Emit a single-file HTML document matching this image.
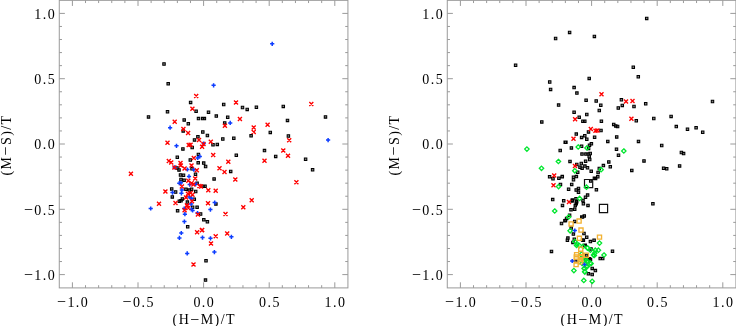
<!DOCTYPE html>
<html><head><meta charset="utf-8"><style>
html,body{margin:0;padding:0;background:#fff;}
body{width:736px;height:326px;overflow:hidden;}
svg{display:block;will-change:transform;}
</style></head><body>
<svg width="736" height="326" viewBox="0 0 736 326">
<rect width="736" height="326" fill="#fff"/>
<g font-family='"Liberation Serif", serif' font-size="14" letter-spacing="1.45" fill="#000">
<rect x="59.28" y="0.35" width="288.64" height="287.55" fill="none" stroke="#9a9a9a" stroke-width="1.0"/>
<path d="M72.4 287.9V282.3M72.4 0.35V5.95M59.28 274.6H64.88M347.92 274.6H342.32M85.52 287.9V285.2M85.52 0.35V3.05M59.28 261.54H61.98M347.92 261.54H345.22M98.64 287.9V285.2M98.64 0.35V3.05M59.28 248.48H61.98M347.92 248.48H345.22M111.76 287.9V285.2M111.76 0.35V3.05M59.28 235.42H61.98M347.92 235.42H345.22M124.88 287.9V285.2M124.88 0.35V3.05M59.28 222.36H61.98M347.92 222.36H345.22M138 287.9V282.3M138 0.35V5.95M59.28 209.3H64.88M347.92 209.3H342.32M151.12 287.9V285.2M151.12 0.35V3.05M59.28 196.24H61.98M347.92 196.24H345.22M164.24 287.9V285.2M164.24 0.35V3.05M59.28 183.18H61.98M347.92 183.18H345.22M177.36 287.9V285.2M177.36 0.35V3.05M59.28 170.12H61.98M347.92 170.12H345.22M190.48 287.9V285.2M190.48 0.35V3.05M59.28 157.06H61.98M347.92 157.06H345.22M203.6 287.9V282.3M203.6 0.35V5.95M59.28 144H64.88M347.92 144H342.32M216.72 287.9V285.2M216.72 0.35V3.05M59.28 130.94H61.98M347.92 130.94H345.22M229.84 287.9V285.2M229.84 0.35V3.05M59.28 117.88H61.98M347.92 117.88H345.22M242.96 287.9V285.2M242.96 0.35V3.05M59.28 104.82H61.98M347.92 104.82H345.22M256.08 287.9V285.2M256.08 0.35V3.05M59.28 91.76H61.98M347.92 91.76H345.22M269.2 287.9V282.3M269.2 0.35V5.95M59.28 78.7H64.88M347.92 78.7H342.32M282.32 287.9V285.2M282.32 0.35V3.05M59.28 65.64H61.98M347.92 65.64H345.22M295.44 287.9V285.2M295.44 0.35V3.05M59.28 52.58H61.98M347.92 52.58H345.22M308.56 287.9V285.2M308.56 0.35V3.05M59.28 39.52H61.98M347.92 39.52H345.22M321.68 287.9V285.2M321.68 0.35V3.05M59.28 26.46H61.98M347.92 26.46H345.22M334.8 287.9V282.3M334.8 0.35V5.95M59.28 13.4H64.88M347.92 13.4H342.32" stroke="#9a9a9a" stroke-width="1.0" fill="none"/>
<text x="56.23" y="279.8" text-anchor="end"><tspan font-size="16" dy="0.6">−</tspan><tspan dy="-0.6">1.0</tspan></text>
<text x="73.12" y="306.6" text-anchor="middle"><tspan font-size="16" dy="0.6">−</tspan><tspan dy="-0.6">1.0</tspan></text>
<text x="56.23" y="214.5" text-anchor="end"><tspan font-size="16" dy="0.6">−</tspan><tspan dy="-0.6">0.5</tspan></text>
<text x="138.72" y="306.6" text-anchor="middle"><tspan font-size="16" dy="0.6">−</tspan><tspan dy="-0.6">0.5</tspan></text>
<text x="56.23" y="149.2" text-anchor="end">0.0</text>
<text x="204.32" y="306.6" text-anchor="middle">0.0</text>
<text x="56.23" y="83.9" text-anchor="end">0.5</text>
<text x="269.93" y="306.6" text-anchor="middle">0.5</text>
<text x="56.23" y="18.6" text-anchor="end">1.0</text>
<text x="335.52" y="306.6" text-anchor="middle">1.0</text>
<text x="204.32" y="324" text-anchor="middle">(H<tspan font-size="16" dy="0.6">−</tspan><tspan dy="-0.6">M)/T</tspan></text>
<text transform="translate(10.68,145.7) rotate(-90)" x="0.72" y="0" text-anchor="middle">(M<tspan font-size="16" dy="0.6">−</tspan><tspan dy="-0.6">S)/T</tspan></text>
<rect x="447.28" y="0.35" width="288.64" height="287.55" fill="none" stroke="#9a9a9a" stroke-width="1.0"/>
<path d="M460.4 287.9V282.3M460.4 0.35V5.95M447.28 274.6H452.88M735.92 274.6H730.32M473.52 287.9V285.2M473.52 0.35V3.05M447.28 261.54H449.98M735.92 261.54H733.22M486.64 287.9V285.2M486.64 0.35V3.05M447.28 248.48H449.98M735.92 248.48H733.22M499.76 287.9V285.2M499.76 0.35V3.05M447.28 235.42H449.98M735.92 235.42H733.22M512.88 287.9V285.2M512.88 0.35V3.05M447.28 222.36H449.98M735.92 222.36H733.22M526 287.9V282.3M526 0.35V5.95M447.28 209.3H452.88M735.92 209.3H730.32M539.12 287.9V285.2M539.12 0.35V3.05M447.28 196.24H449.98M735.92 196.24H733.22M552.24 287.9V285.2M552.24 0.35V3.05M447.28 183.18H449.98M735.92 183.18H733.22M565.36 287.9V285.2M565.36 0.35V3.05M447.28 170.12H449.98M735.92 170.12H733.22M578.48 287.9V285.2M578.48 0.35V3.05M447.28 157.06H449.98M735.92 157.06H733.22M591.6 287.9V282.3M591.6 0.35V5.95M447.28 144H452.88M735.92 144H730.32M604.72 287.9V285.2M604.72 0.35V3.05M447.28 130.94H449.98M735.92 130.94H733.22M617.84 287.9V285.2M617.84 0.35V3.05M447.28 117.88H449.98M735.92 117.88H733.22M630.96 287.9V285.2M630.96 0.35V3.05M447.28 104.82H449.98M735.92 104.82H733.22M644.08 287.9V285.2M644.08 0.35V3.05M447.28 91.76H449.98M735.92 91.76H733.22M657.2 287.9V282.3M657.2 0.35V5.95M447.28 78.7H452.88M735.92 78.7H730.32M670.32 287.9V285.2M670.32 0.35V3.05M447.28 65.64H449.98M735.92 65.64H733.22M683.44 287.9V285.2M683.44 0.35V3.05M447.28 52.58H449.98M735.92 52.58H733.22M696.56 287.9V285.2M696.56 0.35V3.05M447.28 39.52H449.98M735.92 39.52H733.22M709.68 287.9V285.2M709.68 0.35V3.05M447.28 26.46H449.98M735.92 26.46H733.22M722.8 287.9V282.3M722.8 0.35V5.95M447.28 13.4H452.88M735.92 13.4H730.32" stroke="#9a9a9a" stroke-width="1.0" fill="none"/>
<text x="444.23" y="279.8" text-anchor="end"><tspan font-size="16" dy="0.6">−</tspan><tspan dy="-0.6">1.0</tspan></text>
<text x="461.13" y="306.6" text-anchor="middle"><tspan font-size="16" dy="0.6">−</tspan><tspan dy="-0.6">1.0</tspan></text>
<text x="444.23" y="214.5" text-anchor="end"><tspan font-size="16" dy="0.6">−</tspan><tspan dy="-0.6">0.5</tspan></text>
<text x="526.73" y="306.6" text-anchor="middle"><tspan font-size="16" dy="0.6">−</tspan><tspan dy="-0.6">0.5</tspan></text>
<text x="444.23" y="149.2" text-anchor="end">0.0</text>
<text x="592.33" y="306.6" text-anchor="middle">0.0</text>
<text x="444.23" y="83.9" text-anchor="end">0.5</text>
<text x="657.93" y="306.6" text-anchor="middle">0.5</text>
<text x="444.23" y="18.6" text-anchor="end">1.0</text>
<text x="723.52" y="306.6" text-anchor="middle">1.0</text>
<text x="592.33" y="324" text-anchor="middle">(H<tspan font-size="16" dy="0.6">−</tspan><tspan dy="-0.6">M)/T</tspan></text>
<text transform="translate(398.68,145.7) rotate(-90)" x="0.72" y="0" text-anchor="middle">(M<tspan font-size="16" dy="0.6">−</tspan><tspan dy="-0.6">S)/T</tspan></text>
</g>
<path d="M162.78 62.77h2.45v2.45h-2.45zM166.97 82.58h2.45v2.45h-2.45zM147.28 115.68h2.45v2.45h-2.45zM166.28 110.48h2.45v2.45h-2.45zM189.38 101.18h2.45v2.45h-2.45zM194.88 110.08h2.45v2.45h-2.45zM207.28 111.08h2.45v2.45h-2.45zM215.08 114.88h2.45v2.45h-2.45zM197.28 117.38h2.45v2.45h-2.45zM201.47 117.38h2.45v2.45h-2.45zM203.18 117.38h2.45v2.45h-2.45zM182.97 118.68h2.45v2.45h-2.45zM187.08 122.48h2.45v2.45h-2.45zM222.47 103.28h2.45v2.45h-2.45zM241.28 106.28h2.45v2.45h-2.45zM245.97 108.18h2.45v2.45h-2.45zM255.17 105.98h2.45v2.45h-2.45zM226.47 115.98h2.45v2.45h-2.45zM223.47 121.68h2.45v2.45h-2.45zM282.07 105.18h2.45v2.45h-2.45zM286.27 119.18h2.45v2.45h-2.45zM324.27 115.68h2.45v2.45h-2.45zM181.97 129.68h2.45v2.45h-2.45zM201.58 130.78h2.45v2.45h-2.45zM206.18 134.28h2.45v2.45h-2.45zM196.68 135.47h2.45v2.45h-2.45zM193.28 138.68h2.45v2.45h-2.45zM190.97 146.28h2.45v2.45h-2.45zM181.68 147.68h2.45v2.45h-2.45zM197.18 153.18h2.45v2.45h-2.45zM189.08 158.78h2.45v2.45h-2.45zM196.97 161.58h2.45v2.45h-2.45zM202.47 161.88h2.45v2.45h-2.45zM204.38 165.28h2.45v2.45h-2.45zM221.58 137.78h2.45v2.45h-2.45zM232.58 136.97h2.45v2.45h-2.45zM211.78 143.47h2.45v2.45h-2.45zM216.08 143.18h2.45v2.45h-2.45zM235.08 153.97h2.45v2.45h-2.45zM249.88 134.47h2.45v2.45h-2.45zM269.07 131.18h2.45v2.45h-2.45zM287.17 134.78h2.45v2.45h-2.45zM263.27 149.38h2.45v2.45h-2.45zM274.47 155.18h2.45v2.45h-2.45zM304.38 158.08h2.45v2.45h-2.45zM311.38 168.58h2.45v2.45h-2.45zM176.08 155.97h2.45v2.45h-2.45zM175.78 166.78h2.45v2.45h-2.45zM177.78 168.68h2.45v2.45h-2.45zM179.28 173.78h2.45v2.45h-2.45zM179.78 178.28h2.45v2.45h-2.45zM182.88 179.08h2.45v2.45h-2.45zM182.28 173.97h2.45v2.45h-2.45zM170.47 187.68h2.45v2.45h-2.45zM174.38 190.78h2.45v2.45h-2.45zM171.08 195.68h2.45v2.45h-2.45zM178.08 199.97h2.45v2.45h-2.45zM190.78 167.58h2.45v2.45h-2.45zM194.28 173.08h2.45v2.45h-2.45zM195.88 181.97h2.45v2.45h-2.45zM201.88 184.97h2.45v2.45h-2.45zM203.78 184.97h2.45v2.45h-2.45zM184.68 187.97h2.45v2.45h-2.45zM188.08 188.88h2.45v2.45h-2.45zM190.38 187.97h2.45v2.45h-2.45zM194.47 190.28h2.45v2.45h-2.45zM181.18 197.68h2.45v2.45h-2.45zM179.78 199.47h2.45v2.45h-2.45zM193.08 198.08h2.45v2.45h-2.45zM186.18 200.88h2.45v2.45h-2.45zM191.38 205.97h2.45v2.45h-2.45zM195.88 205.97h2.45v2.45h-2.45zM229.47 170.18h2.45v2.45h-2.45zM212.88 177.68h2.45v2.45h-2.45zM214.68 202.68h2.45v2.45h-2.45zM199.38 212.78h2.45v2.45h-2.45zM202.58 218.58h2.45v2.45h-2.45zM206.18 220.58h2.45v2.45h-2.45zM176.38 209.58h2.45v2.45h-2.45zM186.47 225.58h2.45v2.45h-2.45zM204.78 259.57h2.45v2.45h-2.45zM204.28 278.88h2.45v2.45h-2.45z" fill="#808080" stroke="#000" stroke-width="1.05"/>
<path d="M211.5 85.3H215.7M213.6 83.2V87.4M270.1 43.8H274.3M272.2 41.7V45.9M326 140.1H330.2M328.1 138V142.2M168 127.7H172.2M170.1 125.6V129.8M174.4 145.8H178.6M176.5 143.7V147.9M228.1 122.9H232.3M230.2 120.8V125M201.6 143.6H205.8M203.7 141.5V145.7M172.5 167.4H176.7M174.6 165.3V169.5M195.6 158H199.8M197.7 155.9V160.1M197.7 156.4H201.9M199.8 154.3V158.5M185.3 169.5H189.5M187.4 167.4V171.6M191.7 169.7H195.9M193.8 167.6V171.8M178.9 182.8H183.1M181 180.7V184.9M193.6 184.1H197.8M195.7 182V186.2M187.6 184.6H191.8M189.7 182.5V186.7M179.8 190.1H184M181.9 188V192.2M179.3 193.3H183.5M181.4 191.2V195.4M187.2 197H191.4M189.3 194.9V199.1M189.5 198.4H193.7M191.6 196.3V200.5M189 203.9H193.2M191.1 201.8V206M182.1 208.5H186.3M184.2 206.4V210.6M177.2 183.2H181.4M179.3 181.1V185.3M170.4 192.6H174.6M172.5 190.5V194.7M148.6 208.5H152.8M150.7 206.4V210.6M212.6 202.6H216.8M214.7 200.5V204.7M208.3 209.6H212.5M210.4 207.5V211.7M229.3 236.8H233.5M231.4 234.7V238.9M200.4 237.6H204.6M202.5 235.5V239.7M208.4 238.3H212.6M210.5 236.2V240.4M182.8 214.2H187M184.9 212.1V216.3M189.3 209.3H193.5M191.4 207.2V211.4M190.5 210.5H194.7M192.6 208.4V212.6M195.4 213H199.6M197.5 210.9V215.1M182.3 221.6H186.5M184.4 219.5V223.7M179.2 233H183.4M181.3 230.9V235.1M177.3 237.9H181.5M179.4 235.8V240M185.1 253.4H189.3M187.2 251.3V255.5M212.3 252.1H216.5M214.4 250V254.2M186.9 176.4H191.1M189 174.3V178.5" fill="none" stroke="#0d3dff" stroke-width="1.5"/>
<path d="M194.2 93.9L198.2 97.9M194.2 97.9L198.2 93.9M190.4 106.8L194.4 110.8M190.4 110.8L194.4 106.8M181.4 127L185.4 131M181.4 131L185.4 127M234 100.5L238 104.5M234 104.5L238 100.5M237.9 117L241.9 121M237.9 121L241.9 117M222.9 123.8L226.9 127.8M222.9 127.8L226.9 123.8M251.7 125.6L255.7 129.6M251.7 129.6L255.7 125.6M251.7 129.9L255.7 133.9M251.7 133.9L255.7 129.9M265.6 122.7L269.6 126.7M265.6 126.7L269.6 122.7M309.3 102L313.3 106M309.3 106L313.3 102M172.7 119.7L176.7 123.7M172.7 123.7L176.7 119.7M165.5 140.7L169.5 144.7M165.5 144.7L169.5 140.7M186.1 130.9L190.1 134.9M186.1 134.9L190.1 130.9M197 137.9L201 141.9M197 141.9L201 137.9M208.8 139.7L212.8 143.7M208.8 143.7L212.8 139.7M201.5 142L205.5 146M201.5 146L205.5 142M200.1 144.8L204.1 148.8M200.1 148.8L204.1 144.8M186.7 142.9L190.7 146.9M186.7 146.9L190.7 142.9M188.6 142.7L192.6 146.7M188.6 146.7L192.6 142.7M191.8 156.1L195.8 160.1M191.8 160.1L195.8 156.1M211.2 152.9L215.2 156.9M211.2 156.9L215.2 152.9M226.3 159.7L230.3 163.7M226.3 163.7L230.3 159.7M217.5 166.3L221.5 170.3M217.5 170.3L221.5 166.3M222.5 170L226.5 174M222.5 174L226.5 170M287.2 138.3L291.2 142.3M287.2 142.3L291.2 138.3M281.3 148.6L285.3 152.6M281.3 152.6L285.3 148.6M286 153.7L290 157.7M286 157.7L290 153.7M262.5 158.7L266.5 162.7M262.5 162.7L266.5 158.7M294.4 180.3L298.4 184.3M294.4 184.3L298.4 180.3M166.8 159L170.8 163M166.8 163L170.8 159M169.2 160.5L173.2 164.5M169.2 164.5L173.2 160.5M172.4 165.5L176.4 169.5M172.4 169.5L176.4 165.5M178.5 161L182.5 165M178.5 165L182.5 161M189.5 163.6L193.5 167.6M189.5 167.6L193.5 163.6M182.6 166.6L186.6 170.6M182.6 170.6L186.6 166.6M194.8 168.2L198.8 172.2M194.8 172.2L198.8 168.2M193.2 176.5L197.2 180.5M193.2 180.5L197.2 176.5M186.3 178.8L190.3 182.8M186.3 182.8L190.3 178.8M189.6 181.2L193.6 185.2M189.6 185.2L193.6 181.2M191.4 182.6L195.4 186.6M191.4 186.6L195.4 182.6M197.4 184L201.4 188M197.4 188L201.4 184M179.9 184.4L183.9 188.4M179.9 188.4L183.9 184.4M185.9 191.8L189.9 195.8M185.9 195.8L189.9 191.8M188.6 190.9L192.6 194.9M188.6 194.9L192.6 190.9M190.5 192.7L194.5 196.7M190.5 196.7L194.5 192.7M184 195.5L188 199.5M184 199.5L188 195.5M190 199.2L194 203.2M190 203.2L194 199.2M173.5 201L177.5 205M173.5 205L177.5 201M185 203.3L189 207.3M185 207.3L189 203.3M186.3 206.1L190.3 210.1M186.3 210.1L190.3 206.1M163.4 189.4L167.4 193.4M163.4 193.4L167.4 189.4M157 201.7L161 205.7M157 205.7L161 201.7M128.9 171.8L132.9 175.8M128.9 175.8L132.9 171.8M233.3 177.5L237.3 181.5M233.3 181.5L237.3 177.5M199 184.5L203 188.5M199 188.5L203 184.5M206.3 188.2L210.3 192.2M206.3 192.2L210.3 188.2M213.7 188.8L217.7 192.8M213.7 192.8L217.7 188.8M206 201.2L210 205.2M206 205.2L210 201.2M249.7 198.2L253.7 202.2M249.7 202.2L253.7 198.2M241.3 205.2L245.3 209.2M241.3 209.2L245.3 205.2M223.5 212.1L227.5 216.1M223.5 216.1L227.5 212.1M200.2 228.1L204.2 232.1M200.2 232.1L204.2 228.1M225.2 231.4L229.2 235.4M225.2 235.4L229.2 231.4M213.7 234.2L217.7 238.2M213.7 238.2L217.7 234.2M182.6 208.2L186.6 212.2M182.6 212.2L186.6 208.2M185.1 204L189.1 208M185.1 208L189.1 204M195.9 212.6L199.9 216.6M195.9 216.6L199.9 212.6M195.1 230.2L199.1 234.2M195.1 234.2L199.1 230.2M199.8 228.2L203.8 232.2M199.8 232.2L203.8 228.2M209 241.6L213 245.6M209 245.6L213 241.6M191.5 262.4L195.5 266.4M191.5 266.4L195.5 262.4M178.8 163.6L182.8 167.6M178.8 167.6L182.8 163.6" fill="none" stroke="#ff0000" stroke-width="1.35"/>
<path d="M554.38 37.27h2.45v2.45h-2.45zM514.38 64.08h2.45v2.45h-2.45zM568.38 31.17h2.45v2.45h-2.45zM593.17 35.17h2.45v2.45h-2.45zM645.48 17.17h2.45v2.45h-2.45zM711.27 100.28h2.45v2.45h-2.45zM669.88 115.18h2.45v2.45h-2.45zM675.07 125.38h2.45v2.45h-2.45zM686.27 127.97h2.45v2.45h-2.45zM694.88 126.58h2.45v2.45h-2.45zM701.48 131.08h2.45v2.45h-2.45zM632.07 66.08h2.45v2.45h-2.45zM637.07 75.48h2.45v2.45h-2.45zM587.98 77.18h2.45v2.45h-2.45zM584.88 98.98h2.45v2.45h-2.45zM594.98 99.78h2.45v2.45h-2.45zM599.57 104.08h2.45v2.45h-2.45zM598.07 109.28h2.45v2.45h-2.45zM585.57 113.28h2.45v2.45h-2.45zM620.17 98.48h2.45v2.45h-2.45zM621.07 104.18h2.45v2.45h-2.45zM617.07 106.78h2.45v2.45h-2.45zM632.77 105.28h2.45v2.45h-2.45zM644.48 102.48h2.45v2.45h-2.45zM548.48 80.78h2.45v2.45h-2.45zM549.38 88.18h2.45v2.45h-2.45zM572.88 86.38h2.45v2.45h-2.45zM575.67 91.88h2.45v2.45h-2.45zM557.38 103.88h2.45v2.45h-2.45zM572.88 111.08h2.45v2.45h-2.45zM540.57 120.68h2.45v2.45h-2.45zM563.98 140.97h2.45v2.45h-2.45zM558.98 149.28h2.45v2.45h-2.45zM568.77 160.18h2.45v2.45h-2.45zM577.98 115.98h2.45v2.45h-2.45zM581.67 119.98h2.45v2.45h-2.45zM583.57 119.98h2.45v2.45h-2.45zM587.27 130.68h2.45v2.45h-2.45zM575.07 132.88h2.45v2.45h-2.45zM580.38 136.18h2.45v2.45h-2.45zM583.57 134.58h2.45v2.45h-2.45zM585.57 138.08h2.45v2.45h-2.45zM593.38 135.97h2.45v2.45h-2.45zM600.17 119.98h2.45v2.45h-2.45zM612.48 123.18h2.45v2.45h-2.45zM614.57 124.68h2.45v2.45h-2.45zM616.38 125.28h2.45v2.45h-2.45zM599.77 129.28h2.45v2.45h-2.45zM615.48 135.68h2.45v2.45h-2.45zM606.57 140.18h2.45v2.45h-2.45zM590.17 142.58h2.45v2.45h-2.45zM635.07 119.48h2.45v2.45h-2.45zM652.57 117.28h2.45v2.45h-2.45zM637.27 140.18h2.45v2.45h-2.45zM660.48 144.28h2.45v2.45h-2.45zM680.17 151.28h2.45v2.45h-2.45zM682.38 152.38h2.45v2.45h-2.45zM642.77 159.68h2.45v2.45h-2.45zM662.38 167.08h2.45v2.45h-2.45zM665.48 167.47h2.45v2.45h-2.45zM678.38 164.68h2.45v2.45h-2.45zM615.27 147.97h2.45v2.45h-2.45zM617.27 154.08h2.45v2.45h-2.45zM607.57 160.68h2.45v2.45h-2.45zM609.07 165.58h2.45v2.45h-2.45zM602.17 164.38h2.45v2.45h-2.45zM598.07 167.18h2.45v2.45h-2.45zM596.88 171.28h2.45v2.45h-2.45zM596.57 175.58h2.45v2.45h-2.45zM630.57 169.18h2.45v2.45h-2.45zM594.38 177.18h2.45v2.45h-2.45zM595.17 188.58h2.45v2.45h-2.45zM564.67 141.08h2.45v2.45h-2.45zM570.17 146.68h2.45v2.45h-2.45zM580.38 145.08h2.45v2.45h-2.45zM588.27 143.97h2.45v2.45h-2.45zM587.38 147.18h2.45v2.45h-2.45zM580.77 152.88h2.45v2.45h-2.45zM584.67 152.88h2.45v2.45h-2.45zM586.88 152.88h2.45v2.45h-2.45zM588.98 152.28h2.45v2.45h-2.45zM587.98 155.28h2.45v2.45h-2.45zM588.48 158.28h2.45v2.45h-2.45zM584.38 160.08h2.45v2.45h-2.45zM580.07 162.28h2.45v2.45h-2.45zM575.57 163.28h2.45v2.45h-2.45zM578.77 165.97h2.45v2.45h-2.45zM583.67 164.88h2.45v2.45h-2.45zM586.27 166.47h2.45v2.45h-2.45zM580.88 167.08h2.45v2.45h-2.45zM589.98 170.08h2.45v2.45h-2.45zM576.48 171.08h2.45v2.45h-2.45zM560.98 175.47h2.45v2.45h-2.45zM572.27 176.08h2.45v2.45h-2.45zM575.17 175.38h2.45v2.45h-2.45zM572.27 178.47h2.45v2.45h-2.45zM593.17 177.08h2.45v2.45h-2.45zM589.48 179.88h2.45v2.45h-2.45zM559.27 183.18h2.45v2.45h-2.45zM570.48 183.18h2.45v2.45h-2.45zM567.38 188.08h2.45v2.45h-2.45zM574.98 188.78h2.45v2.45h-2.45zM577.27 187.18h2.45v2.45h-2.45zM577.27 190.97h2.45v2.45h-2.45zM586.38 193.88h2.45v2.45h-2.45zM584.27 196.08h2.45v2.45h-2.45zM574.77 197.47h2.45v2.45h-2.45zM571.07 198.78h2.45v2.45h-2.45zM562.48 199.47h2.45v2.45h-2.45zM575.07 201.18h2.45v2.45h-2.45zM582.17 202.58h2.45v2.45h-2.45zM586.77 204.18h2.45v2.45h-2.45zM583.07 214.68h2.45v2.45h-2.45zM580.57 215.88h2.45v2.45h-2.45zM548.38 175.58h2.45v2.45h-2.45zM551.77 177.58h2.45v2.45h-2.45zM557.67 176.97h2.45v2.45h-2.45zM561.07 175.28h2.45v2.45h-2.45zM551.48 198.38h2.45v2.45h-2.45zM561.27 204.18h2.45v2.45h-2.45zM570.88 199.68h2.45v2.45h-2.45zM575.48 200.58h2.45v2.45h-2.45zM574.98 202.47h2.45v2.45h-2.45zM574.07 204.28h2.45v2.45h-2.45zM569.77 208.47h2.45v2.45h-2.45zM573.48 207.97h2.45v2.45h-2.45zM568.38 213.97h2.45v2.45h-2.45zM565.38 217.18h2.45v2.45h-2.45zM564.27 219.18h2.45v2.45h-2.45zM560.27 222.28h2.45v2.45h-2.45zM573.48 220.18h2.45v2.45h-2.45zM569.98 226.88h2.45v2.45h-2.45zM581.27 215.88h2.45v2.45h-2.45zM582.77 232.28h2.45v2.45h-2.45zM572.17 232.88h2.45v2.45h-2.45zM566.67 236.88h2.45v2.45h-2.45zM566.17 239.08h2.45v2.45h-2.45zM573.07 237.97h2.45v2.45h-2.45zM581.38 238.88h2.45v2.45h-2.45zM571.67 241.18h2.45v2.45h-2.45zM583.17 244.38h2.45v2.45h-2.45zM585.48 236.08h2.45v2.45h-2.45zM582.17 239.08h2.45v2.45h-2.45zM589.17 240.38h2.45v2.45h-2.45zM592.88 239.08h2.45v2.45h-2.45zM583.98 243.97h2.45v2.45h-2.45zM589.77 247.68h2.45v2.45h-2.45zM611.27 250.08h2.45v2.45h-2.45zM598.98 257.38h2.45v2.45h-2.45zM601.48 257.38h2.45v2.45h-2.45zM589.27 258.27h2.45v2.45h-2.45zM584.27 258.17h2.45v2.45h-2.45zM590.98 267.17h2.45v2.45h-2.45zM594.17 269.38h2.45v2.45h-2.45zM587.17 272.57h2.45v2.45h-2.45zM590.98 273.27h2.45v2.45h-2.45zM550.27 250.18h2.45v2.45h-2.45zM651.67 202.47h2.45v2.45h-2.45zM585.27 254.28h2.45v2.45h-2.45zM574.57 260.07h2.45v2.45h-2.45zM563.67 219.58h2.45v2.45h-2.45zM588.17 257.57h2.45v2.45h-2.45zM581.77 199.28h2.45v2.45h-2.45z" fill="#808080" stroke="#000" stroke-width="1.05"/>
<path d="M584.5 179.5h8.2v8.2h-8.2zM599.4 204.4h8.2v8.2h-8.2z" fill="none" stroke="#111" stroke-width="1.2"/>
<path d="M599.5 92.2L603.5 96.2M599.5 96.2L603.5 92.2M624 99.5L628 103.5M624 103.5L628 99.5M630.5 99L634.5 103M630.5 103L634.5 99M573.1 117.2L577.1 121.2M573.1 121.2L577.1 117.2M588.8 127L592.8 131M588.8 131L592.8 127M593.5 128.8L597.5 132.8M593.5 132.8L597.5 128.8M595.4 128.5L599.4 132.5M595.4 132.5L599.4 128.5M629.4 116.7L633.4 120.7M629.4 120.7L633.4 116.7M571.5 136.8L575.5 140.8M571.5 140.8L575.5 136.8M573 164.1L577 168.1M573 168.1L577 164.1M567 200L571 204M567 204L571 200M552.2 173.5L556.2 177.5M552.2 177.5L556.2 173.5M551.5 183.2L555.5 187.2M551.5 187.2L555.5 183.2" fill="none" stroke="#ff0000" stroke-width="1.35"/>
<path d="M526.9 146.9L529.1 149.1L526.9 151.3L524.7 149.1zM558.4 159.3L560.6 161.5L558.4 163.7L556.2 161.5zM541.5 166.1L543.7 168.3L541.5 170.5L539.3 168.3zM623.8 148.8L626 151L623.8 153.2L621.6 151zM601.1 167.5L603.3 169.7L601.1 171.9L598.9 169.7zM578.2 144.8L580.4 147L578.2 149.2L576 147zM587 145.7L589.2 147.9L587 150.1L584.8 147.9zM574.8 168.6L577 170.8L574.8 173L572.6 170.8zM586.5 185L588.7 187.2L586.5 189.4L584.3 187.2zM579.6 196.2L581.8 198.4L579.6 200.6L577.4 198.4zM558.6 184.4L560.8 186.6L558.6 188.8L556.4 186.6zM554.7 208.8L556.9 211L554.7 213.2L552.5 211zM568.6 214.8L570.8 217L568.6 219.2L566.4 217zM570.1 228.6L572.3 230.8L570.1 233L567.9 230.8zM574.8 239.3L577 241.5L574.8 243.7L572.6 241.5zM577.1 241.6L579.3 243.8L577.1 246L574.9 243.8zM579.4 243.4L581.6 245.6L579.4 247.8L577.2 245.6zM576.6 243.3L578.8 245.5L576.6 247.7L574.4 245.5zM583 244.2L585.2 246.4L583 248.6L580.8 246.4zM587.6 245.6L589.8 247.8L587.6 250L585.4 247.8zM581.7 251.8L583.9 254L581.7 256.2L579.5 254zM581.7 255.5L583.9 257.7L581.7 259.9L579.5 257.7zM582.1 261.2L584.3 263.4L582.1 265.6L579.9 263.4zM586.7 259.4L588.9 261.6L586.7 263.8L584.5 261.6zM586.7 264.9L588.9 267.1L586.7 269.3L584.5 267.1zM573.9 268.4L576.1 270.6L573.9 272.8L571.7 270.6zM584.4 266.3L586.6 268.5L584.4 270.7L582.2 268.5zM584.8 269.9L587 272.1L584.8 274.3L582.6 272.1zM599.5 240.9L601.7 243.1L599.5 245.3L597.3 243.1zM587.4 245.9L589.6 248.1L587.4 250.3L585.2 248.1zM590.4 248L592.6 250.2L590.4 252.4L588.2 250.2zM595.3 248L597.5 250.2L595.3 252.4L593.1 250.2zM598.4 248L600.6 250.2L598.4 252.4L596.2 250.2zM594.7 251L596.9 253.2L594.7 255.4L592.5 253.2zM593.5 252.9L595.7 255.1L593.5 257.3L591.3 255.1zM604 252.8L606.2 255L604 257.2L601.8 255zM587.4 259L589.6 261.2L587.4 263.4L585.2 261.2zM590.4 260.8L592.6 263L590.4 265.2L588.2 263zM594.3 253.3L596.5 255.5L594.3 257.7L592.1 255.5zM585.8 257.6L588 259.8L585.8 262L583.6 259.8zM591.1 261.4L593.3 263.6L591.1 265.8L588.9 263.6zM587.4 264.1L589.6 266.3L587.4 268.5L585.2 266.3zM584.1 266.2L586.3 268.4L584.1 270.6L581.9 268.4zM584.7 269.4L586.9 271.6L584.7 273.8L582.5 271.6zM583.8 278.2L586 280.4L583.8 282.6L581.6 280.4zM592.2 279.1L594.4 281.3L592.2 283.5L590 281.3z" fill="none" stroke="#00e62e" stroke-width="1.3"/>
<path d="M569.05 221.85h4.1v4.1h-4.1zM577.05 218.95h4.1v4.1h-4.1zM578.95 227.95h4.1v4.1h-4.1zM577.35 236.25h4.1v4.1h-4.1zM597.45 235.05h4.1v4.1h-4.1zM578.65 247.05h4.1v4.1h-4.1zM574.55 252.65h4.1v4.1h-4.1zM584.35 253.15h4.1v4.1h-4.1zM574.05 259.05h4.1v4.1h-4.1zM574.05 262.45h4.1v4.1h-4.1zM578.65 259.95h4.1v4.1h-4.1zM578.85 254.55h4.1v4.1h-4.1zM574.15 254.95h4.1v4.1h-4.1zM578.75 251.25h4.1v4.1h-4.1zM578.75 257.55h4.1v4.1h-4.1z" fill="none" stroke="#f2b233" stroke-width="1.35"/>
<path d="M572.7 230.5H576.9M574.8 228.4V232.6M570.1 261H574.3M572.2 258.9V263.1M582.4 264.5H586.6M584.5 262.4V266.6" fill="none" stroke="#0d3dff" stroke-width="1.5"/>
</svg>
</body></html>
